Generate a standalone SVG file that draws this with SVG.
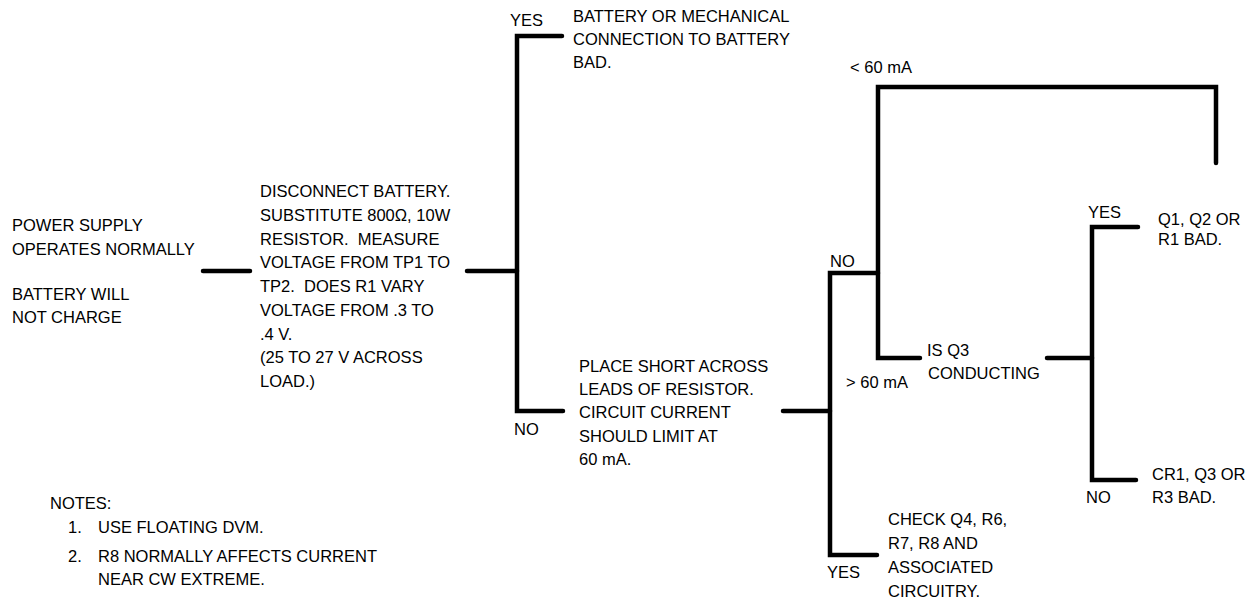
<svg xmlns="http://www.w3.org/2000/svg" width="1260" height="606" viewBox="0 0 1260 606">
<style>
text{font-family:"Liberation Sans",Arial,sans-serif;font-size:16.5px;fill:#000}
.c{fill:none;stroke:#000;stroke-width:4.5;stroke-linecap:round;stroke-linejoin:miter}
</style>
<rect width="1260" height="606" fill="#fff"/>
<g id="connectors">
<path class="c" d="M203,271 H250"/>
<path class="c" d="M467,271 H517"/>
<path class="c" d="M562,36 H517 V411 H563"/>
<path class="c" d="M783,411 H830"/>
<path class="c" d="M1216,163 V87 H878 V358 H920"/>
<path class="c" d="M878,273 H830 V555 H877"/>
<path class="c" d="M1047,358 H1092"/>
<path class="c" d="M1138,227 H1092 V480 H1136"/>
<g id="labels">
<text x="510" y="26">YES</text>
<text x="514" y="435">NO</text>
<text x="850" y="73">&lt; 60 mA</text>
<text x="830" y="267">NO</text>
<text x="846" y="388">&gt; 60 mA</text>
<text x="827" y="578">YES</text>
<text x="1088" y="218">YES</text>
<text x="1086" y="503">NO</text>
</g>
</g>
<g id="n-symptom">
<text x="12" y="231">POWER SUPPLY</text>
<text x="12" y="255">OPERATES NORMALLY</text>
<text x="12" y="300">BATTERY WILL</text>
<text x="12" y="323">NOT CHARGE</text>
</g>
<g id="n-disconnect">
<text x="260" y="197">DISCONNECT BATTERY.</text>
<text x="260" y="221">SUBSTITUTE 800Ω, 10W</text>
<text x="260" y="245" xml:space="preserve">RESISTOR.  MEASURE</text>
<text x="260" y="268">VOLTAGE FROM TP1 TO</text>
<text x="260" y="292" xml:space="preserve">TP2.  DOES R1 VARY</text>
<text x="260" y="316">VOLTAGE FROM .3 TO</text>
<text x="260" y="340">.4 V.</text>
<text x="260" y="363">(25 TO 27 V ACROSS</text>
<text x="260" y="387">LOAD.)</text>
</g>
<g id="n-battery-bad">
<text x="573" y="22">BATTERY OR MECHANICAL</text>
<text x="573" y="45">CONNECTION TO BATTERY</text>
<text x="573" y="68">BAD.</text>
</g>
<g id="n-place-short">
<text x="579" y="372">PLACE SHORT ACROSS</text>
<text x="579" y="395">LEADS OF RESISTOR.</text>
<text x="579" y="418">CIRCUIT CURRENT</text>
<text x="579" y="442">SHOULD LIMIT AT</text>
<text x="579" y="465">60 mA.</text>
</g>
<g id="n-q3">
<text x="927" y="356">IS Q3</text>
<text x="928" y="379">CONDUCTING</text>
</g>
<g id="n-q1q2">
<text x="1158" y="225">Q1, Q2 OR</text>
<text x="1158" y="245">R1 BAD.</text>
</g>
<g id="n-cr1">
<text x="1152" y="480">CR1, Q3 OR</text>
<text x="1152" y="503">R3 BAD.</text>
</g>
<g id="n-check">
<text x="888" y="525">CHECK Q4, R6,</text>
<text x="888" y="549">R7, R8 AND</text>
<text x="888" y="573">ASSOCIATED</text>
<text x="888" y="597">CIRCUITRY.</text>
</g>
<g id="notes">
<text x="50" y="509">NOTES:</text>
<text x="68" y="533">1.</text>
<text x="98" y="533">USE FLOATING DVM.</text>
<text x="68" y="562">2.</text>
<text x="98" y="562">R8 NORMALLY AFFECTS CURRENT</text>
<text x="98" y="585">NEAR CW EXTREME.</text>
</g>
</svg>
